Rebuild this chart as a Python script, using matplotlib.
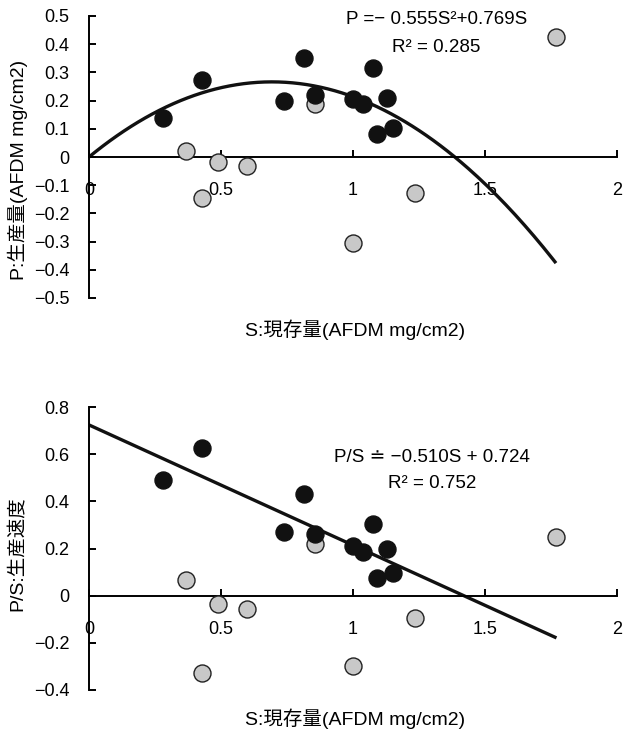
import numpy as np
import matplotlib
matplotlib.use("Agg")
import matplotlib.pyplot as plt

plt.rcParams['font.family'] = ['Liberation Sans', 'Noto Sans CJK JP', 'DejaVu Sans']

# S: standing stock, P: production, PS: P/S ratio
s_black = [0.28, 0.428, 0.739, 0.814, 0.856, 1.0, 1.038, 1.076, 1.091, 1.129, 1.152]
p_black = [0.138, 0.272, 0.198, 0.35, 0.219, 0.205, 0.187, 0.314, 0.081, 0.208, 0.102]
ps_black = [0.49, 0.627, 0.27, 0.43, 0.263, 0.21, 0.186, 0.305, 0.076, 0.20, 0.097]

s_gray = [0.367, 0.428, 0.488, 0.598, 0.856, 1.0, 1.235, 1.77]
p_gray = [0.021, -0.145, -0.018, -0.032, 0.187, -0.304, -0.127, 0.424]
ps_gray = [0.068, -0.33, -0.034, -0.055, 0.22, -0.30, -0.093, 0.25]

# fitted curves as printed on the chart
quad = (-0.555, 0.769)
lin = (-0.510, 0.724)
s_end = 1.765

xticks = [0, 0.5, 1, 1.5, 2]
xticklabels = ['0', '0.5', '1', '1.5', '2']

fig = plt.figure(figsize=(6.23, 7.33), dpi=100)
ax1 = fig.add_axes([89/623, 1-298/733, 528/623, 282/733])
ax2 = fig.add_axes([89/623, 1-690/733, 528/623, 283/733])


def style(ax, ylim, yticks, yfmt):
    ax.set_xlim(0, 2)
    ax.set_ylim(*ylim)
    ax.spines['top'].set_visible(False)
    ax.spines['right'].set_visible(False)
    ax.spines['bottom'].set_position(('data', 0))
    for sp in ('left', 'bottom'):
        ax.spines[sp].set_linewidth(1.4)
    ax.set_xticks(xticks)
    ax.set_xticklabels(xticklabels)
    ax.set_yticks(yticks)
    ax.set_yticklabels([yfmt(v) for v in yticks])
    ax.tick_params(axis='x', direction='in', length=5, width=1.4, pad=18, labelsize=13)
    ax.tick_params(axis='y', direction='in', length=5, width=1.4, pad=14, labelsize=13)
    ax.patch.set_alpha(0)


def fmt(v):
    if abs(v) < 1e-9:
        return '0'
    return ('−' if v < 0 else '') + ('%g' % abs(v))


ss = np.linspace(0, s_end, 200)

ax1.plot(ss, quad[0]*ss**2 + quad[1]*ss, color='#111111', lw=2.4, zorder=2)
ax1.scatter(s_gray, p_gray, s=150, c='#c8c8c8', edgecolors='#222222', linewidths=1.0, zorder=3)
ax1.scatter(s_black, p_black, s=150, c='#111111', edgecolors='#111111', linewidths=1.0, zorder=4)
style(ax1, (-0.5, 0.5), [0.5, 0.4, 0.3, 0.2, 0.1, 0, -0.1, -0.2, -0.3, -0.4, -0.5], fmt)
fig.text(437/623, 1-20/733, 'P =− 0.555S²+0.769S', ha='center', va='center', fontsize=13.5)
fig.text(436/623, 1-47/733, 'R² = 0.285', ha='center', va='center', fontsize=13.5)

ax2.plot(ss, lin[0]*ss + lin[1], color='#111111', lw=2.4, zorder=2)
ax2.scatter(s_gray, ps_gray, s=150, c='#c8c8c8', edgecolors='#222222', linewidths=1.0, zorder=3)
ax2.scatter(s_black, ps_black, s=150, c='#111111', edgecolors='#111111', linewidths=1.0, zorder=4)
style(ax2, (-0.4, 0.8), [0.8, 0.6, 0.4, 0.2, 0, -0.2, -0.4], fmt)
fig.text(432/623, 1-457/733, 'P/S ≐ −0.510S + 0.724', ha='center', va='center', fontsize=13.5)
fig.text(432/623, 1-484/733, 'R² = 0.752', ha='center', va='center', fontsize=13.5)

fig.text(18/623, 1-170/733, 'P:生産量(AFDM mg/cm2)', rotation=90, ha='center', va='center', fontsize=14)
fig.text(18/623, 1-554/733, 'P/S:生産速度', rotation=90, ha='center', va='center', fontsize=14)
fig.text(355/623, 1-330/733, 'S:現存量(AFDM mg/cm2)', ha='center', va='center', fontsize=14)
fig.text(355/623, 1-719/733, 'S:現存量(AFDM mg/cm2)', ha='center', va='center', fontsize=14)

fig.savefig('out.png', dpi=100)
